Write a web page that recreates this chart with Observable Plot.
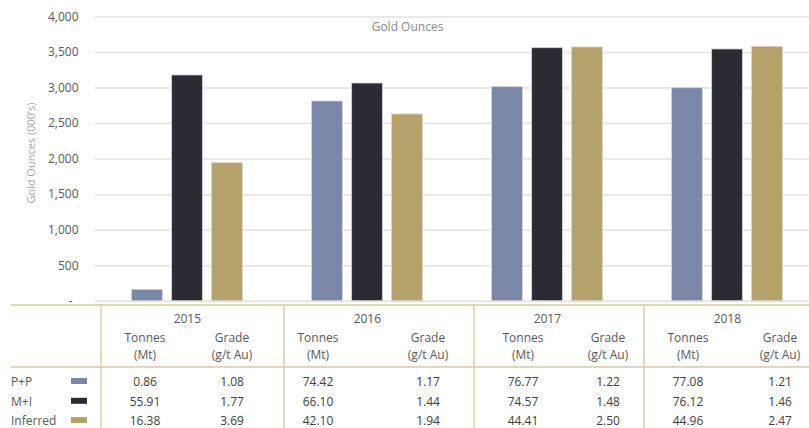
<!DOCTYPE html>
<html>
<head>
<meta charset="utf-8">
<script src="https://cdn.jsdelivr.net/npm/d3@7"></script>
<script src="https://cdn.jsdelivr.net/npm/@observablehq/plot@0.6"></script>
<style>
  html, body { margin: 0; padding: 0; background: #ffffff; }
  #chart { width: 809px; height: 428px; overflow: hidden; }
</style>
</head>
<body>
<div id="chart"></div>
<script>
// ---- data ----
const years = ["2015", "2016", "2017", "2018"];
const series = ["P+P", "M+I", "Inferred"];
const ppOunces = [160, 2811, 3012, 2998];
const miOunces = [3177, 3064, 3561, 3543];
const infOunces = [1942, 2628, 3571, 3581];
const yTicks = [0, 500, 1000, 1500, 2000, 2500, 3000, 3500, 4000];

const ppTonnes = ["0.86", "74.42", "76.77", "77.08"];
const ppGrade = ["1.08", "1.17", "1.22", "1.21"];
const miTonnes = ["55.91", "66.10", "74.57", "76.12"];
const miGrade = ["1.77", "1.44", "1.48", "1.46"];
const infTonnes = ["16.38", "42.10", "44.41", "44.96"];
const infGrade = ["3.69", "1.94", "2.50", "2.47"];

const chartTitle = "Gold Ounces";
const yLabel = "Gold Ounces (000\u2019s)";
const colHead1 = ["Tonnes", "Grade"];
const colHead2 = ["(Mt)", "(g/t Au)"];

// ---- styles / layout ----
const colors = {"P+P": "#7b87a6", "M+I": "#2b2b33", "Inferred": "#b5a26a"};
const W = 809, H = 428;
const mLeft = 95, mTop = 16.5, mBottom = 127.3;
const xRange = [95, 818];
const barW = 31.5, barStep = 40;
const font = "'Open Sans', 'Noto Sans', sans-serif";

const rows = [
  {name: "P+P", tonnes: ppTonnes, grade: ppGrade},
  {name: "M+I", tonnes: miTonnes, grade: miGrade},
  {name: "Inferred", tonnes: infTonnes, grade: infGrade}
];
const valuesBySeries = {"P+P": ppOunces, "M+I": miOunces, "Inferred": infOunces};
const data = series.flatMap(s => years.map((y, i) => ({year: y, series: s, value: valuesBySeries[s][i]})));

const band = (xRange[1] - xRange[0]) / years.length;
const barMarks = series.map((s, k) => {
  const off = (k - 1) * barStep;
  const left = band / 2 + off - barW / 2;
  return Plot.barY(data.filter(d => d.series === s), {
    x: "year", y: "value", fill: colors[s],
    stroke: "#d6d6d6", strokeWidth: 0.8,
    insetLeft: left, insetRight: band - left - barW
  });
});

const chart = Plot.plot({
  width: W, height: H,
  marginLeft: mLeft, marginRight: 0, marginTop: mTop, marginBottom: mBottom,
  style: {fontFamily: font, fontSize: "12px", color: "#595959", background: "#ffffff"},
  x: {domain: years, range: xRange, padding: 0, axis: null},
  y: {domain: [0, 4000]},
  marks: [
    Plot.gridY(yTicks, {stroke: "#e2e2e2", strokeOpacity: 1, strokeWidth: 1.5}),
    ...barMarks,
    Plot.axisY({
      ticks: yTicks, tickSize: 0, tickPadding: 17, label: null,
      fill: "#595959", fontSize: 12,
      tickFormat: d => d === 0 ? "-\u00a0\u00a0" : d3.format(",")(d)
    }),
    Plot.text([chartTitle], {text: d => d, frameAnchor: "top", dx: -45, dy: 10.2,
      lineAnchor: "middle", fill: "#8a8a8a", fontSize: 12}),
    Plot.text([yLabel], {text: d => d, frameAnchor: "left", textAnchor: "middle",
      rotate: -90, dx: -64, dy: -6, fill: "#a6a6a6", fontSize: 11})
  ]
});

document.getElementById("chart").appendChild(chart);

// ---- data table below chart ----
const xs = chart.scale("x");
const groupCenter = y => xs.apply(y) + band / 2;
const tonnesX = [145, 318, 523, 688];
const gradeX = [232, 428, 608, 780];
const vLines = [101, 284, 474, 644];
const hLines = [305, 367];
const lineColor = "#d8cb9f";
const yearY = 318.3, head1Y = 337.7, head2Y = 355, rowY = [381.5, 401.3, 420.6];

const svg = d3.select(chart);
const g = svg.append("g").attr("font-family", font).attr("font-size", 12);

hLines.forEach(y => g.append("line").attr("x1", 11).attr("x2", W).attr("y1", y).attr("y2", y)
  .attr("stroke", lineColor).attr("stroke-width", 1.6));
vLines.forEach(x => g.append("line").attr("x1", x).attr("x2", x).attr("y1", hLines[0]).attr("y2", H)
  .attr("stroke", lineColor).attr("stroke-width", 1.4));

const txt = (x, y, s, fill, anchor = "middle") => g.append("text")
  .attr("x", x).attr("y", y).attr("dy", "0.35em").attr("text-anchor", anchor)
  .attr("fill", fill).text(s);

years.forEach((yr, i) => {
  txt(groupCenter(yr), yearY, yr, "#595959");
  txt(tonnesX[i], head1Y, colHead1[0], "#595959");
  txt(gradeX[i], head1Y, colHead1[1], "#595959");
  txt(tonnesX[i], head2Y, colHead2[0], "#595959");
  txt(gradeX[i], head2Y, colHead2[1], "#595959");
  rows.forEach((r, j) => {
    txt(tonnesX[i], rowY[j], r.tonnes[i], "#404040");
    txt(gradeX[i], rowY[j], r.grade[i], "#404040");
  });
});
rows.forEach((r, j) => {
  txt(11, rowY[j], r.name, "#595959", "start");
  g.append("rect").attr("x", 71).attr("y", rowY[j] - 3.5).attr("width", 16).attr("height", 6)
    .attr("fill", colors[r.name]);
});
</script>
</body>
</html>
